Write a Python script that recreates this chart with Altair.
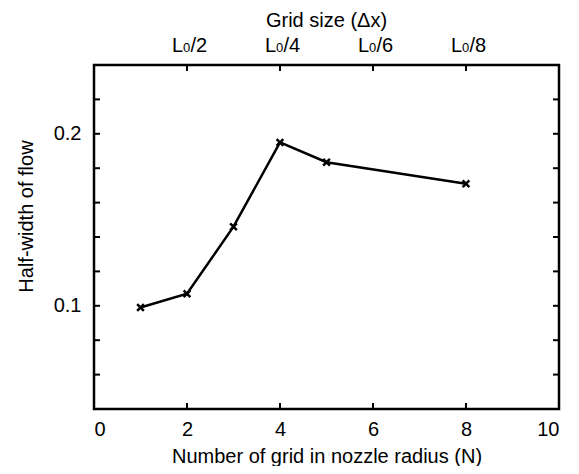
import altair as alt
import pandas as pd

n_grid = [1, 2, 3, 4, 5, 8]
half_width = [0.099, 0.107, 0.146, 0.195, 0.1835, 0.171]

x_tick_vals = [2, 4, 6, 8]
x_label_vals = [0, 2, 4, 6, 8, 10]
top_denoms = ["/2", "/4", "/6", "/8"]
y_tick_vals = [0.06, 0.08, 0.10, 0.12, 0.14, 0.16, 0.18, 0.20, 0.22]
y_label_vals = [0.1, 0.2]

W, H = 465, 344
FONT = "Liberation Sans"
FS = 20
XDOM = [0, 10]
YDOM = [0.04, 0.24]

df = pd.DataFrame({"N": n_grid, "hw": half_width})
xt = pd.DataFrame({"x": x_tick_vals, "d": top_denoms})
yt = pd.DataFrame({"y": y_tick_vals})

xscale = alt.Scale(domain=XDOM, nice=False, zero=False)
yscale = alt.Scale(domain=YDOM, nice=False, zero=False)

common = dict(domain=False, ticks=False, grid=False, labelFont=FONT, titleFont=FONT,
              labelColor="black", titleColor="black", titleFontWeight="normal",
              labelFontSize=FS, titleFontSize=FS)
xaxis = alt.Axis(values=x_label_vals, title="Number of grid in nozzle radius (N)",
                 labelPadding=10, titlePadding=7, **common)
yaxis = alt.Axis(values=y_label_vals, format=".1f", title="Half-width of flow",
                 labelPadding=13, titlePadding=17, titleY=151, **common)

line = alt.Chart(df).mark_line(color="black", strokeWidth=2.5).encode(
    x=alt.X("N:Q", scale=xscale, axis=xaxis),
    y=alt.Y("hw:Q", scale=yscale, axis=yaxis),
)
pts = alt.Chart(df).mark_point(shape="M-1,-1L1,1M1,-1L-1,1", size=45, color="black",
                               strokeWidth=2.5, filled=False, opacity=1).encode(
    x=alt.X("N:Q", scale=xscale),
    y=alt.Y("hw:Q", scale=yscale),
)

ytick_l = alt.Chart(yt).mark_rule(color="black", strokeWidth=2).encode(
    y=alt.Y("y:Q", scale=yscale), x=alt.value(0), x2=alt.value(6))
ytick_r = alt.Chart(yt).mark_rule(color="black", strokeWidth=2).encode(
    y=alt.Y("y:Q", scale=yscale), x=alt.value(W), x2=alt.value(W - 6))
xtick_b = alt.Chart(xt).mark_rule(color="black", strokeWidth=2).encode(
    x=alt.X("x:Q", scale=xscale), y=alt.value(H), y2=alt.value(H - 6))
xtick_t = alt.Chart(xt).mark_rule(color="black", strokeWidth=2).encode(
    x=alt.X("x:Q", scale=xscale), y=alt.value(0), y2=alt.value(6))

t_L = alt.Chart(xt).mark_text(text="L", align="right", baseline="alphabetic", dx=-4,
                              fontSize=FS, font=FONT, color="black").encode(
    x=alt.X("x:Q", scale=xscale), y=alt.value(-13))
t_0 = alt.Chart(xt).mark_text(text="0", align="center", baseline="alphabetic", dx=-0.5,
                              fontSize=13, font=FONT, color="black").encode(
    x=alt.X("x:Q", scale=xscale), y=alt.value(-13))
t_d = alt.Chart(xt).mark_text(align="left", baseline="alphabetic", dx=3.5,
                              fontSize=FS, font=FONT, color="black").encode(
    x=alt.X("x:Q", scale=xscale), y=alt.value(-13), text="d:N")

chart = alt.layer(line, pts, ytick_l, ytick_r, xtick_b, xtick_t, t_L, t_0, t_d).properties(
    width=W, height=H,
    title=alt.TitleParams("Grid size (Δx)", font=FONT, fontSize=FS, fontWeight="normal",
                          color="black", anchor="middle", frame="group", offset=5),
    autosize=alt.AutoSizeParams(type="none"),
    padding={"left": 86, "top": 57, "right": 12, "bottom": 57},
    background="white",
).configure_view(stroke="black", strokeWidth=2.5)

chart.save("out.html", embed_options={"renderer": "svg", "actions": False})
